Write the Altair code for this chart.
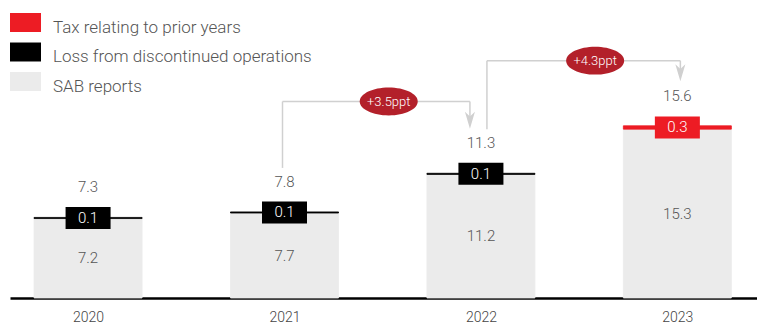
import altair as alt
import pandas as pd

# ---------------- data ----------------
years = ["2020", "2021", "2022", "2023"]
sab_reports = [7.2, 7.7, 11.2, 15.3]
loss_discontinued = [0.1, 0.1, 0.1, 0.0]
tax_prior_years = [0.0, 0.0, 0.0, 0.3]
totals = [7.3, 7.8, 11.3, 15.6]
series_names = ["Tax relating to prior years", "Loss from discontinued operations", "SAB reports"]

conn_from = ["2021", "2022"]
conn_to = ["2022", "2023"]
conn_level = [17.8, 21.5]
conn_label = ["+3.5ppt", "+4.3ppt"]

# ---------------- styles ----------------
colors = ["#ED1C24", "#000000", "#EBEBEB"]
FONT = "Roboto"
FW = 300
TXT = "#555555"
GREY_LINE = "#D0D0D0"
ELL = "#B3202A"
conn_off_from = [-2, 6]
conn_off_to = [-11, 3]
conn_off_ell = [6, 16]

# ---------------- tables ----------------
stack_order = [series_names[2], series_names[1], series_names[0]]
rows = []
for i, yr in enumerate(years):
    start = 0.0
    for name, vals in [(series_names[2], sab_reports), (series_names[1], loss_discontinued), (series_names[0], tax_prior_years)]:
        v = vals[i]
        if v > 0:
            rows.append(dict(year=yr, idx=i, series=name, value=v, start=start, end=start + v,
                             mid=start + v / 2, label=f"{v:.1f}", order=stack_order.index(name)))
            start += v
seg = pd.DataFrame(rows)
tot = pd.DataFrame(dict(year=years, idx=list(range(len(years))), total=totals,
                        label=[f"{t:.1f}" for t in totals]))

color_scale = alt.Scale(domain=series_names, range=colors)
xscale = alt.Scale(domain=[-0.372, 3.38], nice=False, zero=False)
yscale = alt.Scale(domain=[0, 27], nice=False, zero=True)

X = alt.X("idx:Q", scale=xscale, title=None,
          axis=alt.Axis(values=list(range(len(years))),
                        labelExpr="[" + ",".join(f"'{y}'" for y in years) + "][datum.value]",
                        grid=False, ticks=False, tickSize=0, domainColor="#000000", domainWidth=2.5,
                        labelFontSize=14, labelColor="#444444", labelFont=FONT, labelFontWeight=FW,
                        labelPadding=12))

legend = alt.Legend(title=None, orient="none", legendX=0, legendY=12, padding=0,
                    symbolType="M-1,-0.935L1,-0.935L1,0.29L-1,0.29Z", symbolSize=961,
                    symbolStrokeWidth=0, symbolOpacity=1, labelOffset=12, labelFontSize=17,
                    labelColor=TXT, labelFont=FONT, labelFontWeight=FW, labelLimit=500, rowPadding=5.5)

bars = alt.Chart(seg).mark_bar(size=108, strokeWidth=0.8).encode(
    x=X,
    y=alt.Y("start:Q", scale=yscale, axis=None),
    y2="end:Q",
    color=alt.Color("series:N", scale=color_scale, legend=legend),
    stroke=alt.Stroke("series:N", scale=color_scale, legend=None),
)

small = seg[seg["series"] != series_names[2]]
boxes = alt.Chart(small).mark_point(
    shape="M-1,-0.489L1,-0.489L1,0.489L-1,0.489Z", size=2025, filled=True, opacity=1, strokeWidth=0
).encode(
    x=alt.X("idx:Q", scale=xscale), y=alt.Y("mid:Q", scale=yscale),
    color=alt.Color("series:N", scale=color_scale, legend=None),
)
box_text = alt.Chart(small).mark_text(color="white", fontSize=15, font=FONT, fontWeight=FW, baseline="middle").encode(
    x=alt.X("idx:Q", scale=xscale), y=alt.Y("mid:Q", scale=yscale), text="label:N")

big = seg[seg["series"] == series_names[2]]
sab_text = alt.Chart(big).mark_text(color=TXT, fontSize=15, font=FONT, fontWeight=FW, baseline="middle").encode(
    x=alt.X("idx:Q", scale=xscale), y=alt.Y("mid:Q", scale=yscale), text="label:N")

tot_text = alt.Chart(tot).mark_text(color=TXT, fontSize=15, font=FONT, fontWeight=FW, baseline="middle", dy=-30).encode(
    x=alt.X("idx:Q", scale=xscale), y=alt.Y("total:Q", scale=yscale), text="label:N")

layers = [bars, boxes, box_text, sab_text, tot_text]

for k in range(len(conn_from)):
    fi = years.index(conn_from[k])
    ti = years.index(conn_to[k])
    d = pd.DataFrame([dict(fx=fi, tx=ti, ftot=totals[fi], ttot=totals[ti], level=conn_level[k],
                           mx=(fi + ti) / 2, label=conn_label[k])])
    up = alt.Chart(d).mark_rule(color=GREY_LINE, strokeWidth=1.5, xOffset=conn_off_from[k], yOffset=-44).encode(
        x=alt.X("fx:Q", scale=xscale), y=alt.Y("ftot:Q", scale=yscale), y2="level:Q")
    across = alt.Chart(d).mark_rule(color=GREY_LINE, strokeWidth=1.5, xOffset=conn_off_from[k],
                                    x2Offset=conn_off_to[k]).encode(
        x=alt.X("fx:Q", scale=xscale), x2="tx:Q", y=alt.Y("level:Q", scale=yscale))
    down = alt.Chart(d).mark_rule(color=GREY_LINE, strokeWidth=1.5, xOffset=conn_off_to[k], y2Offset=-55).encode(
        x=alt.X("tx:Q", scale=xscale), y=alt.Y("level:Q", scale=yscale), y2="ttot:Q")
    head = alt.Chart(d).mark_point(shape="M-0.59,-1L0,-0.45L0.59,-1L0,1Z", size=289, filled=True, opacity=1,
                                   color=GREY_LINE, strokeWidth=0, xOffset=conn_off_to[k], yOffset=-53).encode(
        x=alt.X("tx:Q", scale=xscale), y=alt.Y("ttot:Q", scale=yscale))
    ell = alt.Chart(d).mark_point(shape="M-1,0A1,0.48,0,1,0,1,0A1,0.48,0,1,0,-1,0Z", size=3364, filled=True,
                                  opacity=1, color=ELL, strokeWidth=0, xOffset=conn_off_ell[k]).encode(
        x=alt.X("mx:Q", scale=xscale), y=alt.Y("level:Q", scale=yscale))
    ell_text = alt.Chart(d).mark_text(color="white", fontSize=13, font=FONT, fontWeight=FW, baseline="middle",
                                      dx=conn_off_ell[k]).encode(
        x=alt.X("mx:Q", scale=xscale), y=alt.Y("level:Q", scale=yscale), text="label:N")
    layers += [up, across, down, head, ell, ell_text]

chart = alt.layer(*layers).properties(
    width=747, height=298,
    autosize=alt.AutoSizeParams(type="none"),
    padding={"left": 10, "top": 0, "right": 0, "bottom": 26},
).configure_view(stroke=None)

chart.save("out.html", embed_options={"renderer": "svg", "actions": False})
